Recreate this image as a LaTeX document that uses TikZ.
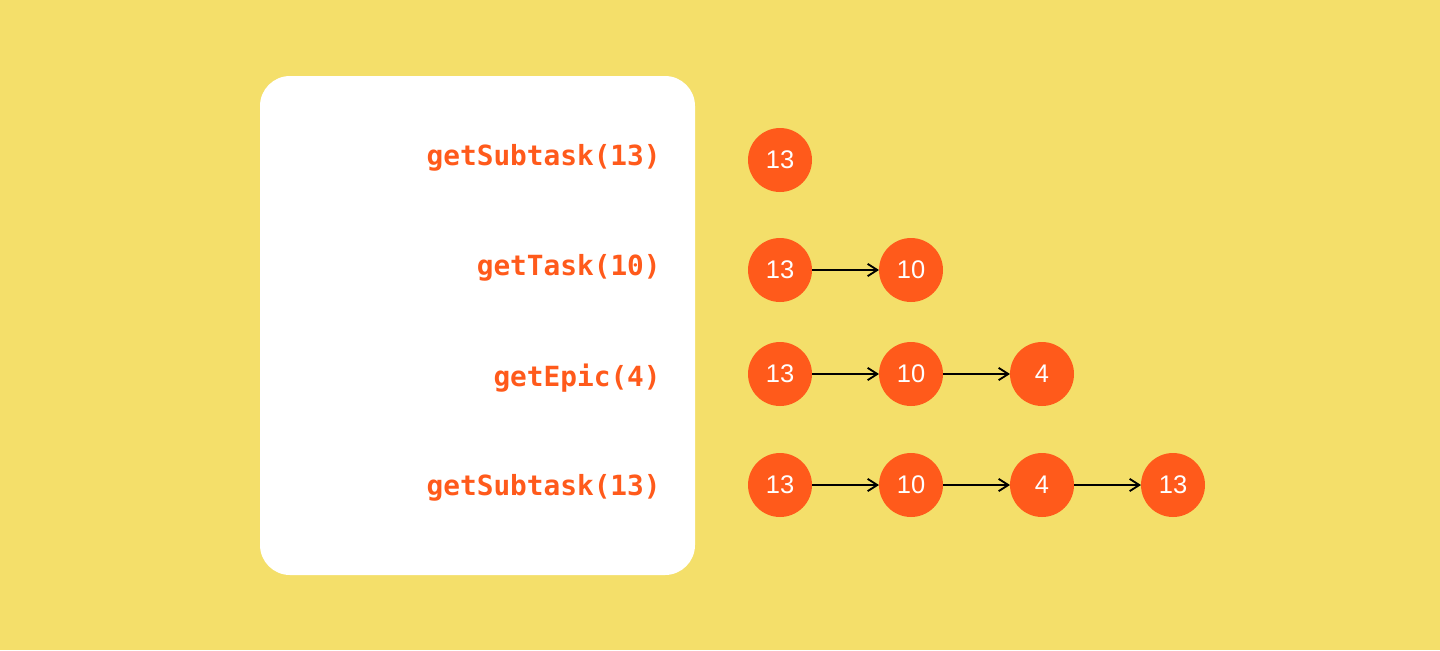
\documentclass[tikz,border=0pt]{standalone}
\usepackage{fontspec}
\setmainfont{Liberation Sans}
\setmonofont{DejaVu Sans Mono}
\usepackage{xcolor}
\usetikzlibrary{positioning}
\usetikzlibrary{arrows.meta}

\begin{document}
\begin{tikzpicture}[x=0.02cm, y=-0.02cm,
	call/.style={anchor=east, inner sep=0pt, text=corange, font=\ttfamily\bfseries\fontsize{15.8}{18}\selectfont},
	ball/.style={circle, fill=corange, minimum size=1.28cm, inner sep=0pt, outer sep=0pt, text=white, font=\fontsize{14.5}{16}\selectfont},
	link/.style={draw=black, line width=1.05pt, -{Straight Barb[length=5.5pt, width=7pt, line width=1.05pt]}}]
		% Call stack of lookups with the chain built so far

% Colors

\definecolor{cyellow}{HTML}{F4DF6A}
\definecolor{corange}{HTML}{FF5A1B}

% Outline
\fill[cyellow] (0,0) rectangle (1440,650);
\useasboundingbox (0,0) rectangle (1440,650);
\fill[white, rounded corners=0.6cm] (260,76) rectangle (695,575);

% Calls
\node[call] (q1) at (661,158) {getSubtask(13)};
\node[call] (q2) at (661,268) {getTask(10)};
\node[call] (q3) at (661,378) {getEpic(4)};
\node[call] (q4) at (661,488) {getSubtask(13)};

% Nodes
\node[ball] (s1) at (780,160) {13};

\node[ball] (t1) at (780,270) {13};
\node[ball] (t2) at (911,270) {10};

\node[ball] (e1) at (780,374) {13};
\node[ball] (e2) at (911,374) {10};
\node[ball] (e3) at (1042,374) {4};

\node[ball] (r1) at (780,485) {13};
\node[ball] (r2) at (911,485) {10};
\node[ball] (r3) at (1042,485) {4};
\node[ball] (r4) at (1173,485) {13};

% Connections
\draw[link] (t1) -- (t2);

\draw[link] (e1) -- (e2);
\draw[link] (e2) -- (e3);

\draw[link] (r1) -- (r2);
\draw[link] (r2) -- (r3);
\draw[link] (r3) -- (r4);
	\end{tikzpicture}
\end{document}
